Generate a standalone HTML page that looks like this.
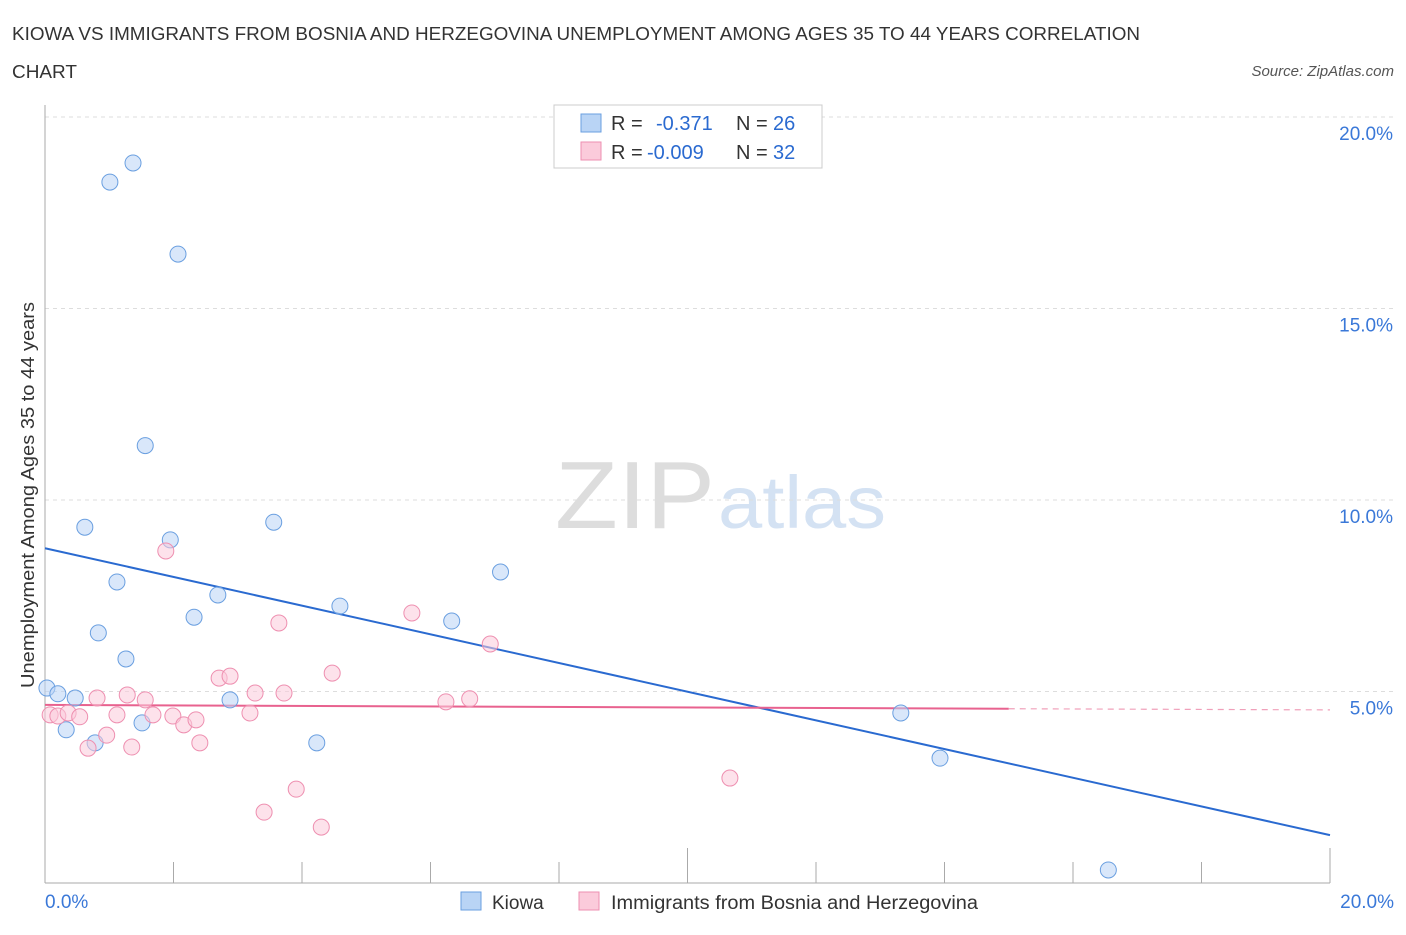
<!DOCTYPE html>
<html><head><meta charset="utf-8">
<style>
body{margin:0;background:#fff;font-family:"Liberation Sans",sans-serif;}
svg text{font-family:"Liberation Sans",sans-serif;}
</style></head>
<body>
<svg id="chart" width="1406" height="930" viewBox="0 0 1406 930">
<text x="12" y="40" font-size="18" fill="#333" textLength="1128" lengthAdjust="spacingAndGlyphs">KIOWA VS IMMIGRANTS FROM BOSNIA AND HERZEGOVINA UNEMPLOYMENT AMONG AGES 35 TO 44 YEARS CORRELATION</text>
<text x="12" y="78" font-size="18" fill="#333" textLength="65" lengthAdjust="spacingAndGlyphs">CHART</text>
<text x="1394" y="76" font-size="15" fill="#555" text-anchor="end" font-style="italic">Source: ZipAtlas.com</text>
<text x="715" y="528" font-size="96" fill="#ddd" text-anchor="end" font-family="Liberation Serif" textLength="160" lengthAdjust="spacingAndGlyphs">ZIP</text>
<text x="718" y="528" font-size="74" fill="#d4e2f3" textLength="168" lengthAdjust="spacingAndGlyphs">atlas</text>
<text transform="translate(34,495) rotate(-90)" font-size="18" fill="#333" text-anchor="middle" textLength="386" lengthAdjust="spacingAndGlyphs">Unemployment Among Ages 35 to 44 years</text>
<g id="grid"></g><g id="ticks"></g><g id="lines"></g><g id="pts"></g>
<g>
<rect x="554" y="105" width="268" height="63" fill="#fff" stroke="#ccc"/>
<rect x="581" y="114" width="20" height="18" fill="#b9d4f5" stroke="#6a9fe0"/>
<rect x="581" y="142" width="20" height="18" fill="#fbcbdb" stroke="#ee8fb0"/>
<text x="611" y="130" font-size="20" fill="#333">R = </text><text x="656" y="130" font-size="20" fill="#2a6ad0">-0.371</text>
<text x="736" y="130" font-size="20" fill="#333">N = </text><text x="773" y="130" font-size="20" fill="#2a6ad0">26</text>
<text x="611" y="159" font-size="20" fill="#333">R = </text><text x="647" y="159" font-size="20" fill="#2a6ad0">-0.009</text>
<text x="736" y="159" font-size="20" fill="#333">N = </text><text x="773" y="159" font-size="20" fill="#2a6ad0">32</text>
</g>
<g><rect x="461" y="892" width="20" height="18" fill="#b9d4f5" stroke="#6a9fe0"/><text x="492" y="909" font-size="19" fill="#333">Kiowa</text></g>
<g><rect x="579" y="892" width="20" height="18" fill="#fbcbdb" stroke="#ee8fb0"/><text x="611" y="909" font-size="19" fill="#333" textLength="367" lengthAdjust="spacingAndGlyphs">Immigrants from Bosnia and Herzegovina</text></g>
</svg>
<script>
const yTicks=[5,10,15,20];
const yTickLabels=["5.0%","10.0%","15.0%","20.0%"];
const xTickLabels=["0.0%","20.0%"];
const kiowaX=[0.03,0.20,0.47,0.33,0.78,0.62,1.01,1.37,2.07,1.56,1.12,0.83,1.26,1.95,2.32,2.69,1.51,2.88,3.56,4.23,4.59,6.33,7.09,13.32,13.93,16.55];
const kiowaY=[5.09,4.94,4.83,4.00,3.66,9.29,18.30,18.80,16.42,11.42,7.86,6.53,5.85,8.96,6.94,7.52,4.18,4.78,9.42,3.66,7.23,6.84,8.12,4.44,3.26,0.34];
const bosX=[0.08,0.20,0.36,0.54,0.81,0.67,0.96,1.12,1.28,1.35,1.56,1.68,1.88,1.99,2.16,2.35,2.41,2.71,2.88,3.19,3.27,3.41,3.64,3.72,3.91,4.30,4.47,5.71,6.24,6.61,6.93,10.66];
const bosY=[4.39,4.36,4.44,4.34,4.83,3.52,3.86,4.39,4.91,3.55,4.78,4.39,8.67,4.36,4.13,4.26,3.66,5.35,5.40,4.44,4.96,1.85,6.79,4.96,2.45,1.46,5.48,7.05,4.73,4.81,6.24,2.74];
const blueLine=[0,8.74,20,1.25];
const pinkLine=[0,4.65,15,4.55,20,4.52];
const X=v=>45+v*64.25, Y=v=>883-v*38.3;
const NS="http://www.w3.org/2000/svg";
function mk(t,a,p){const e=document.createElementNS(NS,t);for(const k in a)e.setAttribute(k,a[k]);p.appendChild(e);return e;}
const g=document.getElementById('grid'),tk=document.getElementById('ticks'),ln=document.getElementById('lines'),pt=document.getElementById('pts');
yTicks.forEach((v,i)=>{
 const l=mk('line',{x1:45,x2:1394,y1:Y(v),y2:Y(v),stroke:'#ddd','stroke-dasharray':'4,4'},g);
 
 
 const t=mk('text',{x:1393,y:Y(v)+23,'font-size':19,fill:'#3a78d8','text-anchor':'end'},tk);t.textContent=yTickLabels[i];
 
 
});
const ax=mk('line',{x1:45,x2:1330,y1:883,y2:883,stroke:'#aaa'},g);


const ay=mk('line',{x1:45,x2:45,y1:105,y2:883,stroke:'#aaa'},g);


for(let i=0;i<=10;i++){const l=mk('line',{x1:X(i*2),x2:X(i*2),y1:883,y2:i%5==0?848:862,stroke:'#aaa'},g);
 
 }
[[0,'start',45],[20,'end',1394]].forEach((a,i)=>{const t=mk('text',{x:a[2],y:908,'font-size':19,fill:'#3a78d8','text-anchor':a[1]},tk);t.textContent=xTickLabels[i];
 
 });
kiowaX.forEach((v,i)=>{const c=mk('circle',{cx:X(v),cy:Y(kiowaY[i]),r:8,fill:'rgba(185,212,245,0.55)',stroke:'#6a9fe0','stroke-width':1},pt);
 
 });
bosX.forEach((v,i)=>{const c=mk('circle',{cx:X(v),cy:Y(bosY[i]),r:8,fill:'rgba(251,203,219,0.55)',stroke:'#ee8fb0','stroke-width':1},pt);
 
 });
const bl=mk('line',{x1:X(blueLine[0]),y1:Y(blueLine[1]),x2:X(blueLine[2]),y2:Y(blueLine[3]),stroke:'#2a6ad0','stroke-width':2},ln);


const pl=mk('line',{x1:X(pinkLine[0]),y1:Y(pinkLine[1]),x2:X(pinkLine[2]),y2:Y(pinkLine[3]),stroke:'#e8628f','stroke-width':2},ln);


const pd=mk('line',{x1:X(pinkLine[2]),y1:Y(pinkLine[3]),x2:X(pinkLine[4]),y2:Y(pinkLine[5]),stroke:'#f0a0ba','stroke-width':1.2,'stroke-dasharray':'6,5'},ln);


</script>
</body></html>
